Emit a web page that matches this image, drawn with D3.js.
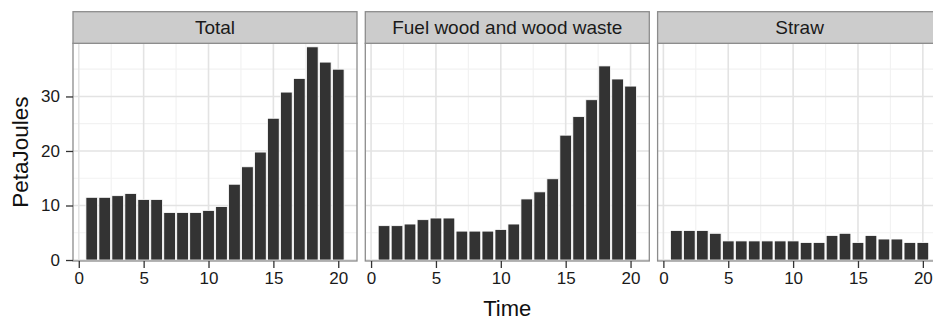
<!DOCTYPE html>
<html>
<head>
<meta charset="utf-8">
<script src="https://cdn.jsdelivr.net/npm/d3@7"></script>
<style>
  html, body { margin: 0; padding: 0; background: #fff; overflow: hidden; }
  svg { display: block; font-family: "Liberation Sans", Arial, sans-serif; }
</style>
</head>
<body>
<div id="chart"></div>
<script>
// ---- data ----
const panels = ["Total", "Fuel wood and wood waste", "Straw"];
const time = [1,2,3,4,5,6,7,8,9,10,11,12,13,14,15,16,17,18,19,20];
const total = [11.5, 11.5, 11.8, 12.2, 11.1, 11.1, 8.7, 8.7, 8.7, 9.1, 9.8, 13.9, 17.1, 19.8, 26.0, 30.8, 33.3, 39.1, 36.3, 35.0];
const fuelWood = [6.3, 6.3, 6.6, 7.4, 7.7, 7.7, 5.3, 5.3, 5.3, 5.6, 6.6, 11.2, 12.5, 14.9, 22.9, 26.3, 29.4, 35.6, 33.2, 31.9];
const straw = [5.4, 5.4, 5.4, 4.9, 3.5, 3.5, 3.5, 3.5, 3.5, 3.5, 3.2, 3.2, 4.5, 4.9, 3.2, 4.5, 3.85, 3.85, 3.2, 3.2];
const xTicks = [0, 5, 10, 15, 20];
const xMinor = [2.5, 7.5, 12.5, 17.5];
const yTicks = [0, 10, 20, 30];
const yMinor = [5, 15, 25, 35];
const xLabel = "Time";
const yLabel = "PetaJoules";

const seriesByPanel = [total, fuelWood, straw];

// ---- layout ----
const W = 933, H = 321;
const panelLeft0 = 73, panelStep = 292.3, panelW = 284;
const stripTop = 11.7, stripBottom = 43.3, panelBottom = 261;
const barWidth = 0.9;

const svg = d3.select("#chart").append("svg")
  .attr("width", W).attr("height", H);

const y = d3.scaleLinear().domain([-0.18, 39.75]).range([panelBottom, stripBottom]);

panels.forEach((name, i) => {
  const left = panelLeft0 + i * panelStep;
  const x = d3.scaleLinear().domain([0.55 - 0.995, 20.45 + 0.995]).range([left, left + panelW]);
  const g = svg.append("g");

  // panel background
  g.append("rect").attr("x", left).attr("y", stripBottom)
    .attr("width", panelW).attr("height", panelBottom - stripBottom)
    .attr("fill", "#fff");

  // minor grid
  g.selectAll(".vminor").data(xMinor).join("line")
    .attr("x1", d => x(d)).attr("x2", d => x(d))
    .attr("y1", stripBottom).attr("y2", panelBottom)
    .attr("stroke", "#f2f2f2").attr("stroke-width", 1.2);
  g.selectAll(".hminor").data(yMinor).join("line")
    .attr("x1", left).attr("x2", left + panelW)
    .attr("y1", d => y(d)).attr("y2", d => y(d))
    .attr("stroke", "#f2f2f2").attr("stroke-width", 1.2);
  // major grid
  g.selectAll(".vmajor").data(xTicks).join("line")
    .attr("x1", d => x(d)).attr("x2", d => x(d))
    .attr("y1", stripBottom).attr("y2", panelBottom)
    .attr("stroke", "#e3e3e3").attr("stroke-width", 1.6);
  g.selectAll(".hmajor").data(yTicks).join("line")
    .attr("x1", left).attr("x2", left + panelW)
    .attr("y1", d => y(d)).attr("y2", d => y(d))
    .attr("stroke", "#e3e3e3").attr("stroke-width", 1.6);

  // bars
  const data = time.map((t, k) => ({ t, v: seriesByPanel[i][k] }));
  g.selectAll(".bar").data(data).join("rect")
    .attr("x", d => x(d.t - barWidth / 2))
    .attr("width", d => x(d.t + barWidth / 2) - x(d.t - barWidth / 2))
    .attr("y", d => y(d.v))
    .attr("height", d => y(0) - y(d.v))
    .attr("fill", "#333333")
    .attr("stroke", "#ffffff").attr("stroke-width", 0.8);

  // panel border
  g.append("rect").attr("x", left).attr("y", stripBottom)
    .attr("width", panelW).attr("height", panelBottom - stripBottom)
    .attr("fill", "none").attr("stroke", "#8c8c8c").attr("stroke-width", 1.3);

  // strip
  g.append("rect").attr("x", left).attr("y", stripTop)
    .attr("width", panelW).attr("height", stripBottom - stripTop)
    .attr("fill", "#cccccc").attr("stroke", "#8c8c8c").attr("stroke-width", 1.3);
  g.append("text").attr("x", left + panelW / 2).attr("y", (stripTop + stripBottom) / 2)
    .attr("dy", "0.35em").attr("text-anchor", "middle")
    .attr("font-size", "19px").attr("fill", "#1a1a1a").text(name);

  // x axis
  const xAxis = d3.axisBottom(x).tickValues(xTicks).tickSize(7).tickPadding(4).tickFormat(d3.format("d"));
  const xg = g.append("g").attr("transform", `translate(0,${panelBottom})`).call(xAxis);
  xg.select(".domain").remove();
  xg.selectAll(".tick line").attr("stroke", "#333").attr("stroke-width", 1.3);
  xg.selectAll(".tick text").attr("font-size", "17px").attr("fill", "#1a1a1a")
    .attr("font-family", "'Liberation Sans', Arial, sans-serif");
});

// y axis on the first panel
{
  const left = panelLeft0;
  const yAxis = d3.axisLeft(y).tickValues(yTicks).tickSize(7).tickPadding(6).tickFormat(d3.format("d"));
  const yg = svg.append("g").attr("transform", `translate(${left},0)`).call(yAxis);
  yg.select(".domain").remove();
  yg.selectAll(".tick line").attr("stroke", "#333").attr("stroke-width", 1.3);
  yg.selectAll(".tick text").attr("font-size", "17px").attr("fill", "#1a1a1a")
    .attr("font-family", "'Liberation Sans', Arial, sans-serif");
}

// axis titles
svg.append("text")
  .attr("x", panelLeft0 + (panelStep * 2 + panelW) / 2).attr("y", 315.5)
  .attr("text-anchor", "middle").attr("font-size", "22px").attr("fill", "#111")
  .text(xLabel);
svg.append("text")
  .attr("transform", `translate(28,${(stripBottom + panelBottom) / 2}) rotate(-90)`)
  .attr("text-anchor", "middle").attr("font-size", "22.5px").attr("fill", "#111")
  .text(yLabel);
</script>
</body>
</html>
